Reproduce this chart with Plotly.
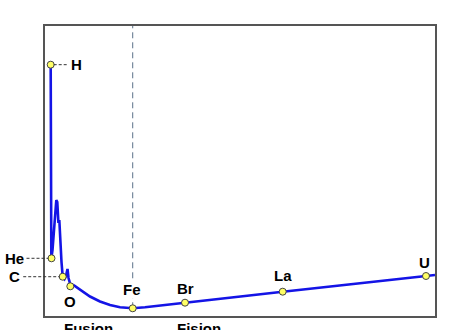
import plotly.graph_objects as go

# Curve (arbitrary units: x = relative mass number position, y = relative mass per nucleon)
curve_x = [1.46, 1.62, 1.92, 2.31, 2.69, 2.90, 3.15, 3.33, 3.44, 3.67, 3.90, 4.23, 4.54,
           5.00, 5.38, 5.77, 6.03, 6.46, 7.44, 8.97, 11.54, 14.10, 16.67, 19.23, 22.49,
           25.64, 35.90, 60.95, 97.69, 100.0]
curve_y = [86.66, 19.83, 22.76, 30.34, 38.28, 40.00, 39.31, 34.83, 32.07, 33.10, 26.21, 18.62, 13.55,
           12.76, 13.79, 16.21, 13.10, 11.03, 10.52, 9.14, 6.72, 5.00, 3.79, 3.00, 2.66,
           3.00, 4.59, 8.38, 13.79, 14.14]

# Elements
elements = ["H", "He", "C", "O", "Fe", "Br", "La", "U"]
elem_x = [1.46, 1.67, 4.54, 6.49, 22.49, 35.90, 60.95, 97.69]
elem_y = [86.66, 19.90, 13.55, 10.24, 2.66, 4.59, 8.38, 13.79]

region_labels = ["Fusion", "Fision"]
region_x = [4.62, 33.6]

X_RANGE = [0, 100]
Y_RANGE = [0, 100]

FONT = dict(family="Liberation Sans, Arial, sans-serif", size=15, color="black")

fig = go.Figure()
fig.add_trace(go.Scatter(x=curve_x, y=curve_y, mode="lines",
                         line=dict(color="#1414e6", width=2.6), hoverinfo="skip",
                         cliponaxis=False))
fig.add_trace(go.Scatter(x=elem_x, y=elem_y, mode="markers",
                         marker=dict(size=7, color="#ffff66", line=dict(color="#444", width=1)),
                         cliponaxis=False, text=elements))

# label placement (pixel offsets relative to each point)
label_style = {
    "H": dict(xanchor="left", xshift=19, yshift=0),
    "He": dict(xanchor="right", xshift=-27, yshift=0),
    "C": dict(xanchor="right", xshift=-42, yshift=0),
    "O": dict(xanchor="center", xshift=0, yshift=-15),
    "Fe": dict(xanchor="center", xshift=-1, yshift=19, bgcolor="white"),
    "Br": dict(xanchor="center", xshift=0, yshift=14),
    "La": dict(xanchor="center", xshift=0, yshift=16),
    "U": dict(xanchor="center", xshift=-1, yshift=14),
}
for name, x, y in zip(elements, elem_x, elem_y):
    st = label_style[name]
    fig.add_annotation(x=x, y=y, xref="x", yref="y", text="<b>%s</b>" % name,
                       showarrow=False, yanchor="middle", font=FONT, borderpad=0, **st)


def to_paper(v, rng):
    return (v - rng[0]) / (rng[1] - rng[0])


# leader dashes (paper-referenced so they may extend outside the frame)
leaders = {"H": (3, 17), "He": (-25, -3), "C": (-39.5, -3)}
for name, (p0, p1) in leaders.items():
    i = elements.index(name)
    yp = to_paper(elem_y[i], Y_RANGE)
    fig.add_shape(type="line", xref="paper", yref="paper", xsizemode="pixel",
                  xanchor=to_paper(elem_x[i], X_RANGE),
                  x0=p0, x1=p1, y0=yp, y1=yp,
                  line=dict(color="#333", width=1, dash="3px,2px"))

# vertical dashed line at Fe
iFe = elements.index("Fe")
fig.add_shape(type="line", xref="x", yref="y", x0=elem_x[iFe], x1=elem_x[iFe],
              y0=elem_y[iFe], y1=Y_RANGE[1], layer="below",
              line=dict(color="#5a7088", width=1, dash="6px,4px"))

for t, x in zip(region_labels, region_x):
    fig.add_annotation(x=x, y=0, xref="x", yref="paper", text="<b>%s</b>" % t,
                       showarrow=False, xanchor="left", yanchor="top", yshift=-3,
                       font=FONT, borderpad=0)

axis_common = dict(showgrid=False, zeroline=False, showticklabels=False, ticks="",
                   showline=True, mirror=True, linecolor="#555", linewidth=2)
fig.update_layout(
    width=474, height=330,
    margin=dict(l=45, r=39, t=26, b=14),
    paper_bgcolor="white", plot_bgcolor="white",
    showlegend=False,
    xaxis=dict(range=X_RANGE, **axis_common),
    yaxis=dict(range=Y_RANGE, **axis_common),
)
fig.write_html("out.html")
